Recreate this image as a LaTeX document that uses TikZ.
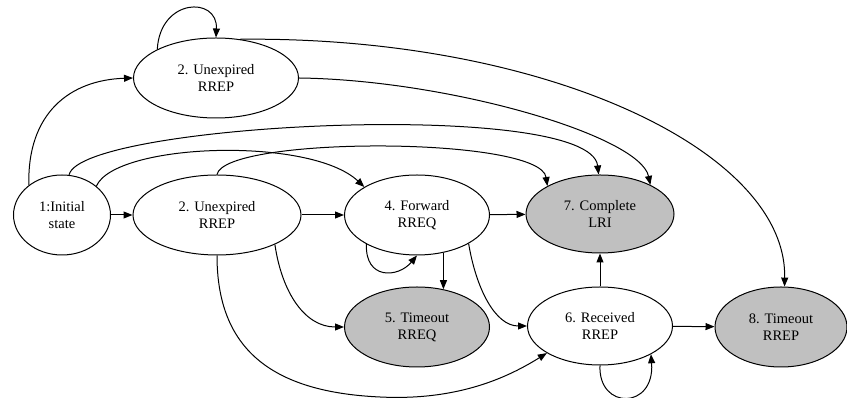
\documentclass[tikz,border=0pt]{standalone}
\usepackage{fontspec}
\setmainfont{Liberation Serif}
\usetikzlibrary{arrows.meta,shapes.geometric}
\definecolor{finalgray}{RGB}{192,192,192}

\begin{document}
\begin{tikzpicture}[x=1pt, y=1pt,
    state/.style={draw, ellipse, line width=1pt, minimum height=80pt, inner sep=0pt,
        align=center, font=\fontsize{14.5}{17}\selectfont},
    final/.style={state, fill=finalgray},
    arr/.style={line width=1pt, -{Triangle[length=9pt,width=7pt]}}]
\useasboundingbox (0,0) rectangle (847,398);

% States
\node[state, minimum width=97pt] (init) at (62,183) {1:Initial\\state};
\node[state, minimum width=165pt] (unexpA) at (216,320) {2. Unexpired\\RREP};
\node[state, minimum width=168pt] (unexpB) at (217,183) {2. Unexpired\\RREP};
\node[state, minimum width=145pt] (fwd) at (417,183) {4. Forward\\RREQ};
\node[final, minimum width=145pt] (treq) at (417,71) {5. Timeout\\RREQ};
\node[state, minimum width=145pt, minimum height=78pt] (rrep) at (600,72) {6. Received\\RREP};
\node[final, minimum width=148pt, minimum height=78pt] (lri) at (600,184) {7. Complete\\LRI};
\node[final, minimum width=132pt] (trep) at (781,71) {8. Timeout\\RREP};

% Straight transitions
\foreach \a/\b in {init/unexpB, unexpB/fwd, fwd/lri, rrep/trep, rrep/lri}
    \draw[arr] (\a) -- (\b);
\draw[arr] (fwd.-55) -- (treq.55);

% Curved transitions
\draw[arr] (init.138) .. controls (27,285) and (70,318) .. (unexpA.west);
\draw[arr] (init.80) .. controls (80,275) and (590,300) .. (lri.92);
\draw[arr] (init.40) .. controls (115,255) and (310,262) .. (fwd.152);
\draw[arr] (unexpB.90) .. controls (225,262) and (540,262) .. (lri.152);
\draw[arr] (unexpA.east) .. controls (450,318) and (640,262) .. (lri.30);
\draw[arr] (unexpA.58) .. controls (543,362) and (787,248) .. (trep.85);
\draw[arr] (fwd.-29) .. controls (476,110) and (495,72) .. (rrep.west);
\draw[arr] (unexpB.-27) .. controls (282,105) and (305,71) .. (treq.west);
\draw[arr] (unexpB.south) .. controls (217,50) and (270,6) .. (380,1)
    .. controls (460,-3) and (510,22) .. (rrep.-153);

% Self loops
\draw[arr] (unexpA.154) .. controls (160,400) and (218,402) .. (unexpA.north);
\draw[arr] (fwd.-150) .. controls (365,118) and (398,120) .. (fwd.south);
\draw[arr] (rrep.south) .. controls (598,-12) and (655,-12) .. (rrep.-29);
\end{tikzpicture}
\end{document}
